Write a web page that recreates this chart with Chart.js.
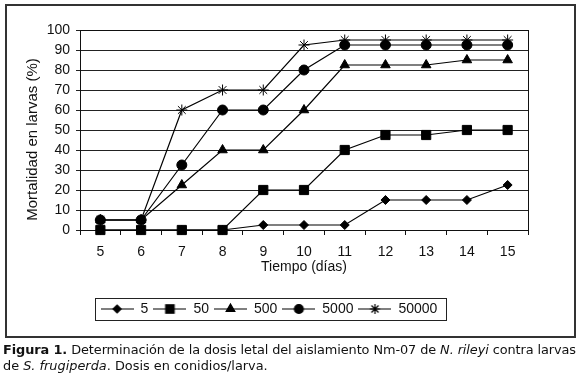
<!DOCTYPE html>
<html>
<head>
<meta charset="utf-8">
<script src="https://cdn.jsdelivr.net/npm/chart.js@4.4.0/dist/chart.umd.min.js"></script>
<style>
  body { margin: 0; background: #fff; width: 580px; height: 379px; position: relative; overflow: hidden; }
  #c { position: absolute; left: 0; top: 0; }
  #frame { position: absolute; left: 5px; top: 4px; width: 567px; height: 330px; border: 2px solid #333; pointer-events: none; }
  .cap { position: absolute; left: 3px; font-family: "DejaVu Sans", sans-serif; font-size: 12.8px; color: #111; white-space: nowrap; }
  #cap1 { top: 342px; }
  #cap2 { top: 358px; }
</style>
</head>
<body>
<canvas id="c" width="580" height="340"></canvas>
<div id="frame"></div>
<div class="cap" id="cap1"><b>Figura 1.</b> Determinación de la dosis letal del aislamiento Nm-07 de <i>N. rileyi</i> contra larvas</div>
<div class="cap" id="cap2">de <i>S. frugiperda</i>. Dosis en conidios/larva.</div>
<script>
// dias de observacion
var dias = ["5", "6", "7", "8", "9", "10", "11", "12", "13", "14", "15"];
// mortalidad (%) por dosis (conidios/larva)
var dosis5 = [0, 0, 0, 0, 2.5, 2.5, 2.5, 15, 15, 15, 22.5];
var dosis50 = [0, 0, 0, 0, 20, 20, 40, 47.5, 47.5, 50, 50];
var dosis500 = [5, 5, 22.5, 40, 40, 60, 82.5, 82.5, 82.5, 85, 85];
var dosis5000 = [5, 5, 32.5, 60, 60, 80, 92.5, 92.5, 92.5, 92.5, 92.5];
var dosis50000 = [5, 5, 60, 70, 70, 92.5, 95, 95, 95, 95, 95];
var yTicks = [0, 10, 20, 30, 40, 50, 60, 70, 80, 90, 100];

var FONT = "'Liberation Sans', Arial, sans-serif";

// fit the caption: second line sets the size, first line spread to full width
var cap1 = document.getElementById('cap1'), cap2 = document.getElementById('cap2');
var fs = 12.8 * 265 / cap2.getBoundingClientRect().width;
cap1.style.fontSize = fs + 'px'; cap2.style.fontSize = fs + 'px';
var w1 = cap1.getBoundingClientRect().width;
var nch = cap1.textContent.length;
cap1.style.letterSpacing = ((573 - w1) / nch) + 'px';

function legendIcon(style, r) {
  // little line + marker, like the excel legend
  var c = document.createElement('canvas');
  c.width = 33; c.height = 14;
  var g = c.getContext('2d');
  g.strokeStyle = '#000'; g.fillStyle = '#000'; g.lineWidth = 1.2;
  g.beginPath(); g.moveTo(0, 7); g.lineTo(33, 7); g.stroke();
  Chart.helpers.drawPoint(g, {pointStyle: style, radius: r, borderWidth: 1}, 16.5, 7);
  return c;
}

function serie(label, data, style, r) {
  return {
    label: label, data: data,
    borderColor: '#000', backgroundColor: '#000',
    borderWidth: 1.2, pointStyle: style, pointRadius: r,
    pointBackgroundColor: '#000', pointBorderColor: '#000', pointBorderWidth: 1,
    tension: 0, clip: false
  };
}

var boxPlugin = {
  id: 'boxes',
  beforeDatasetsDraw: function(chart) {
    var a = chart.chartArea, ctx = chart.ctx;
    ctx.save();
    ctx.strokeStyle = '#111'; ctx.lineWidth = 1;
    ctx.strokeRect(Math.round(a.left) + 0.5, Math.round(a.top) + 0.5, Math.round(a.right - a.left), Math.round(a.bottom - a.top));
    ctx.restore();
  },
  afterDraw: function(chart) {
    var ctx = chart.ctx, a = chart.chartArea;
    // y axis title, placed like the original
    ctx.save();
    ctx.translate(33, (a.top + a.bottom) / 2 + 9.5);
    ctx.rotate(-Math.PI / 2);
    ctx.font = '15px ' + FONT;
    ctx.fillStyle = '#111';
    ctx.textAlign = 'center'; ctx.textBaseline = 'middle';
    ctx.fillText('Mortalidad en larvas (%)', 0, 0);
    ctx.restore();

    var hb = chart.legend.legendHitBoxes;
    if (!hb || !hb.length) return;
    var l = 1e9, r = -1e9, t = 1e9, b = -1e9;
    hb.forEach(function(h) {
      l = Math.min(l, h.left); r = Math.max(r, h.left + h.width);
      t = Math.min(t, h.top); b = Math.max(b, h.top + h.height);
    });
    ctx.save();
    ctx.strokeStyle = '#222'; ctx.lineWidth = 1;
    ctx.strokeRect(Math.round(l - 6) + 0.5, Math.round(t - 4) + 0.5, Math.round(r - l + 14), Math.round(b - t + 8));
    ctx.restore();
  }
};

var ctx = document.getElementById('c').getContext('2d');
var chart = new Chart(ctx, {
  type: 'line',
  data: {
    labels: dias,
    datasets: [
      serie('5', dosis5, 'rectRot', 4.5),
      serie('50', dosis50, 'rect', 6.5),
      serie('500', dosis500, 'triangle', 5.5),
      serie('5000', dosis5000, 'circle', 5),
      serie('50000', dosis50000, 'star', 5.5)
    ]
  },
  options: {
    responsive: false,
    animation: false,
    layout: { padding: { left: 10, right: 52, top: 30, bottom: 14 } },
    plugins: {
      tooltip: { enabled: false },
      legend: {
        position: 'bottom',
        labels: {
          usePointStyle: true,
          pointStyleWidth: 33,
          boxHeight: 12,
          padding: 5,
          color: '#111',
          font: { family: FONT, size: 14 },
          generateLabels: function(chart) {
            return chart.data.datasets.map(function(ds, i) {
              return {
                text: ds.label, datasetIndex: i, hidden: false,
                pointStyle: legendIcon(ds.pointStyle, ds.pointRadius - 0.5),
                fillStyle: '#000', strokeStyle: '#000', lineWidth: 0, fontColor: '#111'
              };
            });
          }
        }
      }
    },
    scales: {
      x: {
        offset: true,
        grid: { display: true, offset: true, drawOnChartArea: false, drawTicks: true, tickLength: 5, color: '#111' },
        border: { display: true, color: '#111', width: 1 },
        ticks: { color: '#111', padding: 9, font: { family: FONT, size: 14 }, maxRotation: 0 },
        title: { display: true, text: 'Tiempo (días)', color: '#111', font: { family: FONT, size: 14 }, padding: { top: 0, bottom: 21 } },
        afterFit: function(s) { s.height = 67; }
      },
      y: {
        min: 0, max: 100,
        afterBuildTicks: function(s) { s.ticks = yTicks.map(function(v) { return {value: v}; }); },
        grid: { color: '#222', lineWidth: 1, drawTicks: true, tickLength: 4 },
        border: { display: true, color: '#111', width: 1 },
        ticks: { color: '#111', padding: 6, font: { family: FONT, size: 14 } },
        title: { display: false },
        afterFit: function(s) { s.width = 70; }
      }
    }
  },
  plugins: [boxPlugin]
});
</script>
</body>
</html>
